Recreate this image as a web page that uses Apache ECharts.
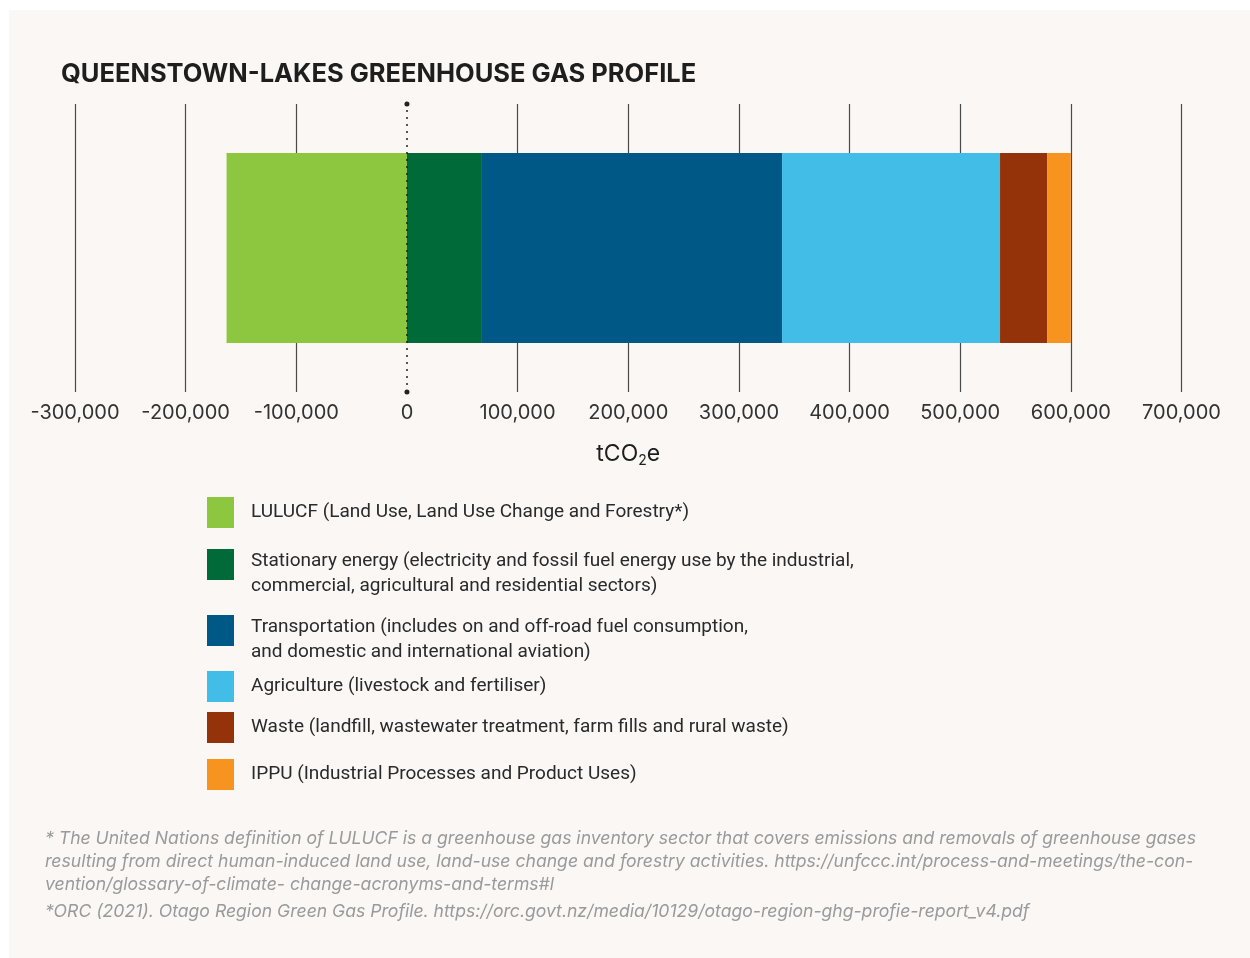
<!DOCTYPE html>
<html>
<head>
<meta charset="utf-8">
<style>
  html, body { margin: 0; padding: 0; background: #ffffff; }
  #card { position: absolute; left: 9px; top: 10px; width: 1241px; height: 948px; background: #faf7f4; }
  #chart { position: absolute; left: 0; top: 0; width: 1250px; height: 958px; }
</style>
<script src="https://cdn.jsdelivr.net/npm/echarts@6/dist/echarts.min.js"></script>
</head>
<body>
<div id="card"></div>
<div id="chart"></div>
<script>
// ---- data ----
const categories = ['Queenstown-Lakes'];
const sectors = ['LULUCF', 'Stationary energy', 'Transportation', 'Agriculture', 'Waste', 'IPPU'];
const sectorLabels = [
  'LULUCF (Land Use, Land Use Change and Forestry*)',
  'Stationary energy (electricity and fossil fuel energy use by the industrial,\ncommercial, agricultural and residential sectors)',
  'Transportation (includes on and off-road fuel consumption,\nand domestic and international aviation)',
  'Agriculture (livestock and fertiliser)',
  'Waste (landfill, wastewater treatment, farm fills and rural waste)',
  'IPPU (Industrial Processes and Product Uses)'
];
const sectorValues = [-163000, 67000, 272000, 197000, 42500, 21500];
const sectorColors = ['#8dc63f', '#006b38', '#005887', '#42bde7', '#94330a', '#f7941f'];
const axisMin = -300000;
const axisMax = 700000;
const axisStep = 100000;
const titleText = 'QUEENSTOWN-LAKES GREENHOUSE GAS PROFILE';
const footnote1 = '* The United Nations definition of LULUCF is a greenhouse gas inventory sector that covers emissions and removals of greenhouse gases\nresulting from direct human-induced land use, land-use change and forestry activities. https://unfccc.int/process-and-meetings/the-con-\nvention/glossary-of-climate- change-acronyms-and-terms#l';
const footnote2 = '*ORC (2021). Otago Region Green Gas Profile. https://orc.govt.nz/media/10129/otago-region-ghg-profie-report_v4.pdf';

// ---- chart ----
const chart = echarts.init(document.getElementById('chart'));
const nTicks = Math.round((axisMax - axisMin) / axisStep) + 1;
const splitColors = [];
for (let i = 0; i < nTicks; i++) {
  splitColors.push(axisMin + i * axisStep === 0 ? 'rgba(0,0,0,0)' : '#4a4a4a');
}
const labelMap = {};
sectors.forEach((s, i) => { labelMap[s] = sectorLabels[i]; });

const legendTops = [497, 539, 605, 671, 712, 759];
const legendFont = { fontFamily: 'Roboto', fontSize: 19, color: '#2a2a2a', lineHeight: 24.5 };
const legends = sectors.map((s, i) => {
  return {
    data: [s],
    left: 207,
    top: legendTops[i],
    padding: 0,
    orient: 'vertical',
    icon: 'rect',
    itemWidth: 27,
    itemHeight: 31,
    selectedMode: false,
    formatter: name => {
      const lines = labelMap[name].split('\n');
      if (lines.length === 1) return '{t|' + lines[0] + '}';
      return '{s| }\n' + lines.map(l => '{t|' + l + '}').join('\n');
    },
    textStyle: {
      padding: [0, 0, 0, 12],
      rich: {
        t: legendFont,
        s: { fontSize: 2, lineHeight: 18 }
      }
    }
  };
});

const series = sectors.map((s, i) => {
  const o = {
    name: s,
    type: 'bar',
    stack: 'total',
    barWidth: 190,
    itemStyle: { color: sectorColors[i] },
    emphasis: { disabled: true },
    data: [sectorValues[i]]
  };
  if (i === 0) {
    o.markLine = {
      silent: true,
      symbol: ['circle', 'circle'],
      symbolSize: 5,
      label: { show: false },
      lineStyle: { color: '#222222', type: [2, 5], width: 1.5 },
      data: [{ xAxis: 0 }]
    };
  }
  return o;
});

const footStyle = { fontFamily: 'Inter', fontStyle: 'italic', fontWeight: 'normal', fontSize: 17.6, color: '#9a9a9a', lineHeight: 23 };

chart.setOption({
  backgroundColor: 'transparent',
  animation: false,
  title: [
    {
      text: titleText,
      left: 61,
      top: 61,
      padding: 0,
      textStyle: { fontFamily: 'Inter', fontWeight: 'bold', fontSize: 25.5, color: '#1e1e1e' }
    },
    { text: footnote1, left: 45, top: 827, padding: 0, textStyle: footStyle },
    { text: footnote2, left: 45, top: 900, padding: 0, textStyle: footStyle }
  ],
  legend: legends,
  grid: { left: 75, right: 68.5, top: 104, bottom: 566, containLabel: false },
  xAxis: {
    type: 'value',
    min: axisMin,
    max: axisMax,
    interval: axisStep,
    name: 'tCO{sub|2}e',
    nameLocation: 'middle',
    nameGap: 48,
    nameTextStyle: {
      fontFamily: 'Inter', fontSize: 23, color: '#1e1e1e',
      rich: { sub: { fontFamily: 'Inter', fontSize: 14, color: '#1e1e1e', padding: [14, 0, 0, 0] } }
    },
    axisLine: { show: false },
    axisTick: { show: false },
    splitLine: { show: true, lineStyle: { color: splitColors, width: 1.2 } },
    axisLabel: {
      margin: 11,
      fontFamily: 'Inter',
      fontSize: 20,
      color: '#333333',
      formatter: v => v.toLocaleString('en-US')
    }
  },
  yAxis: {
    type: 'category',
    data: categories,
    show: false
  },
  series: series
});
</script>
</body>
</html>
